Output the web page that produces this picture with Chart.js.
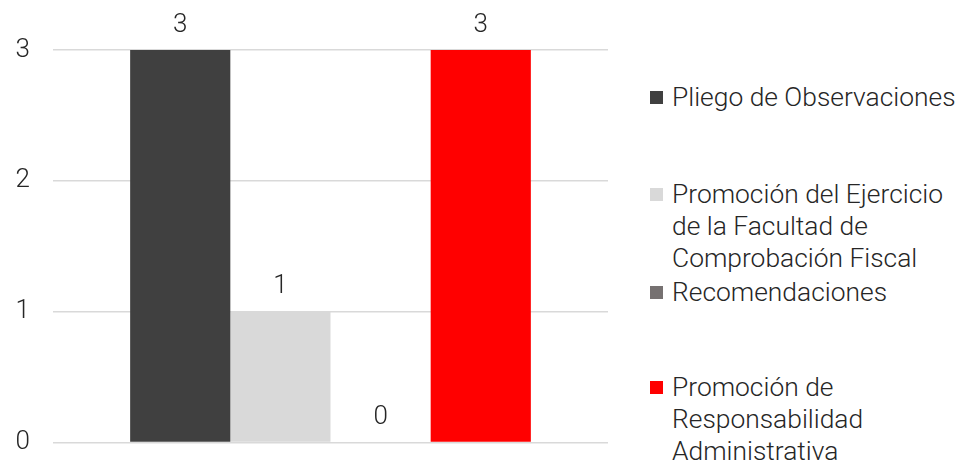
<!DOCTYPE html>
<html>
<head>
<meta charset="utf-8">
<script src="https://cdn.jsdelivr.net/npm/chart.js@4"></script>
<style>
  html, body { margin: 0; padding: 0; background: #fff; }
  body { width: 960px; height: 466px; position: relative; overflow: hidden; font-family: Roboto, sans-serif; font-weight: 300; }
  .plot { position: absolute; left: 0; top: 0; width: 620px; height: 481px; }
  .legend { position: absolute; left: 650px; top: 0; width: 310px; height: 466px; }
  .legend-item { position: absolute; left: 0; display: flex; align-items: flex-start; font-size: 26.4px; line-height: 32px; color: #262626; white-space: nowrap; }
  .legend-box { width: 13px; height: 13px; margin-top: 10px; margin-right: 9px; flex: none; }
</style>
</head>
<body>
<div class="plot"><canvas class="js-chart"></canvas></div>
<div class="legend js-legend"></div>
<script>
const ctx = document.querySelector('.js-chart').getContext('2d');

const categories = [''];
const seriesNames = [
    'Pliego de Observaciones',
    'Promoción del Ejercicio de la Facultad de Comprobación Fiscal',
    'Recomendaciones',
    'Promoción de Responsabilidad Administrativa'
];
const legendLines = [
    ['Pliego de Observaciones'],
    ['Promoción del Ejercicio', 'de la Facultad de', 'Comprobación Fiscal'],
    ['Recomendaciones'],
    ['Promoción de', 'Responsabilidad', 'Administrativa']
];
const seriesValues = [[3], [1], [0], [3]];
const seriesColors = ['#404040', '#d9d9d9', '#767171', '#ff0000'];
const yTicks = [0, 1, 2, 3];

// where each legend entry sits (px from top)
const legendTops = [81, 178, 276, 371];

const valueLabels = {
    id: 'valueLabels',
    afterDatasetsDraw(chart) {
        const c = chart.ctx;
        c.save();
        c.font = '300 26px Roboto';
        c.fillStyle = '#262626';
        c.textAlign = 'center';
        c.textBaseline = 'middle';
        chart.data.datasets.forEach((ds, i) => {
            chart.getDatasetMeta(i).data.forEach((bar, j) => {
                c.fillText(String(ds.data[j]), bar.x, bar.y - 25);
            });
        });
        c.restore();
    }
};

const chart = new Chart(ctx, {
    type: 'bar',
    data: {
        labels: categories,
        datasets: seriesNames.map((name, i) => ({
            label: name,
            data: seriesValues[i],
            backgroundColor: seriesColors[i],
            borderWidth: 0,
            categoryPercentage: 0.722,
            barPercentage: 1
        }))
    },
    options: {
        responsive: true,
        maintainAspectRatio: false,
        animation: false,
        layout: { padding: { left: 0, right: 12, top: 50, bottom: 0 } },
        plugins: {
            legend: { display: false },
            tooltip: { enabled: false }
        },
        scales: {
            x: { display: false },
            y: {
                min: 0,
                max: 3,
                afterBuildTicks(scale) {
                    scale.ticks = yTicks.map(v => ({ value: v }));
                },
                afterFit(scale) {
                    scale.width = 53;
                },
                border: { display: false },
                grid: { color: '#d9d9d9', lineWidth: 1.5, drawTicks: false },
                ticks: {
                    padding: 23,
                    color: '#262626',
                    font: { family: 'Roboto', weight: '300', size: 26 }
                }
            }
        }
    },
    plugins: [valueLabels]
});

const legendEl = document.querySelector('.js-legend');
chart.data.datasets.forEach((ds, i) => {
    const item = document.createElement('div');
    item.className = 'legend-item';
    item.style.top = legendTops[i] + 'px';
    const box = document.createElement('span');
    box.className = 'legend-box';
    box.style.background = ds.backgroundColor;
    const text = document.createElement('span');
    text.innerHTML = legendLines[i].join('<br>');
    item.appendChild(box);
    item.appendChild(text);
    legendEl.appendChild(item);
});
</script>
</body>
</html>
